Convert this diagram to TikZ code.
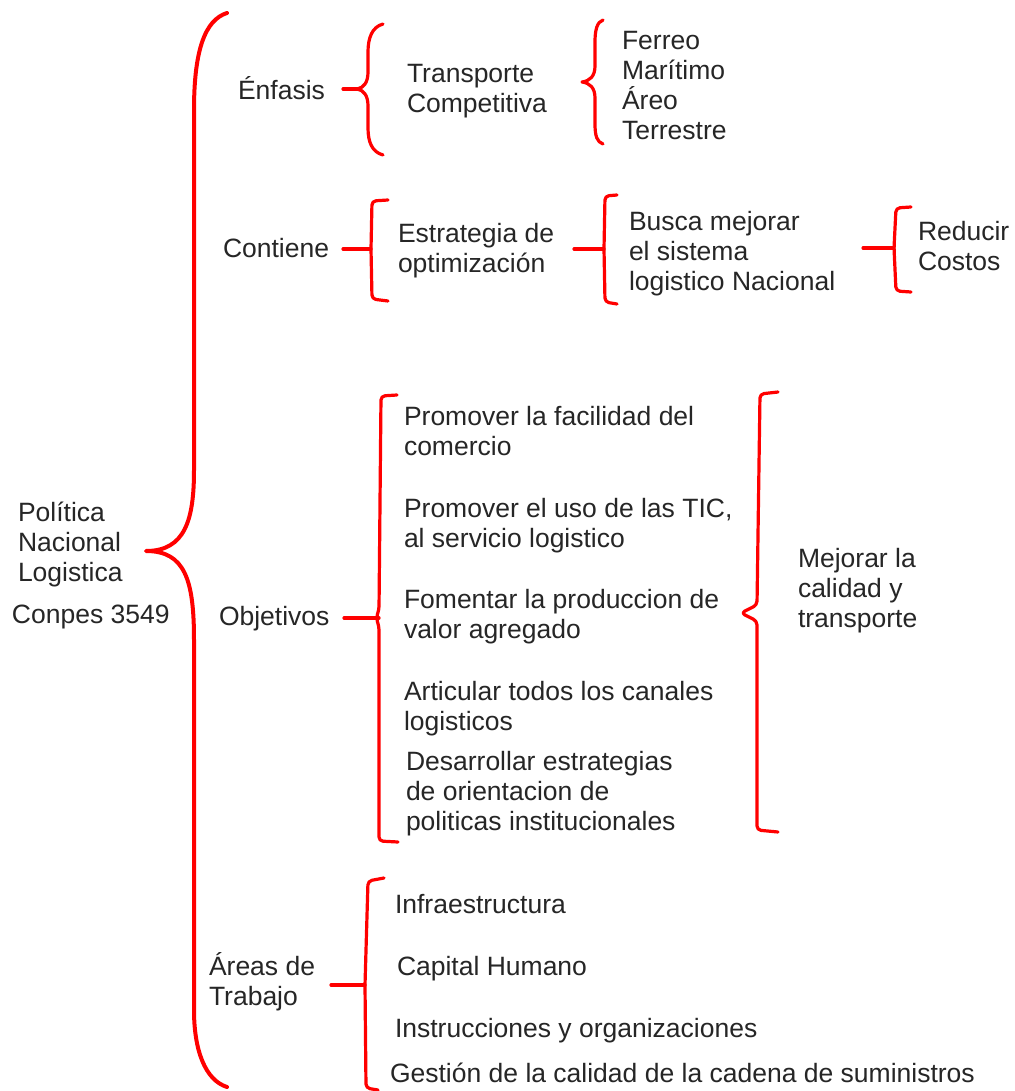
\documentclass[tikz,border=0pt]{standalone}
\usepackage{fontspec}
\setmainfont{Liberation Sans}
\begin{document}
\begin{tikzpicture}[x=1pt,y=-1pt,
  txt/.style={anchor=base west,inner sep=0pt,outer sep=0pt,align=left,
    font=\fontsize{26.5}{30}\selectfont,text=black!85},
  brace/.style={draw=red,line width=3.2pt,line join=round,line cap=round},
  bigbrace/.style={draw=red,line width=4pt,line join=round,line cap=round}]
\useasboundingbox[fill=white] (0,0) rectangle (1014,1091);

% root (anchor = baseline of last line)
\node[txt] (root) at (18,581) {Política\\Nacional\\Logistica};
\node[txt] (conpes) at (12,623) {Conpes 3549};

% main brace
\coordinate (mtip) at (146,551);
\draw[bigbrace] (227,13) .. controls (205,20) and (194,50) .. (194,110)
  -- (194,470) .. controls (194,520) and (185,551) .. (mtip)
  .. controls (185,551) and (194,580) .. (194,640)
  -- (194,1010) .. controls (194,1050) and (205,1080) .. (227,1087);

% level 2
\node[txt] (enf) at (238,100) {Énfasis};
\node[txt] (cont) at (223,258) {Contiene};
\node[txt] (obj) at (219,625) {Objetivos};
\node[txt] (areas) at (209,1005) {Áreas de\\Trabajo};

% Enfasis brace
\coordinate (e0) at (343,89);
\coordinate (etip) at (357,89);
\draw[brace] (e0) -- (etip);
\draw[brace] (383,24) .. controls (372,27) and (368,38) .. (368,52)
  -- (368,72) .. controls (368,82) and (364,88) .. (etip)
  .. controls (364,90) and (368,96) .. (368,106)
  -- (368,128) .. controls (368,142) and (372,152) .. (383,155);
\node[txt] (trans) at (407,113) {Transporte\\Competitiva};

% Transporte brace
\coordinate (ttip) at (582,82);
\draw[brace] (603,20) .. controls (597,22) and (595,30) .. (595,42)
  -- (595,66) .. controls (595,76) and (590,81) .. (ttip)
  .. controls (590,83) and (595,88) .. (595,98)
  -- (595,124) .. controls (595,136) and (597,142) .. (603,144);
\node[txt] (modes) at (622,140) {Ferreo\\Marítimo\\Áreo\\Terrestre};

% Contiene bracket
\coordinate (c0) at (343,249);
\coordinate (c1) at (371,249);
\draw[brace] (c0) -- (c1);
\draw[brace,rounded corners=4pt] (388,200) -- (372,201) -- (371,249) -- (372,299) -- (388,301);
\node[txt] (estr) at (398,272) {Estrategia de\\optimización};

% Estrategia -> Busca bracket
\coordinate (b0) at (574,249);
\coordinate (b1) at (604,249);
\draw[brace] (b0) -- (b1);
\draw[brace,rounded corners=4pt] (617,195) -- (605,196) -- (604,249) -- (605,302) -- (617,304);
\node[txt] (busca) at (629,290) {Busca mejorar\\el sistema\\logistico Nacional};

% Busca -> Reducir bracket
\coordinate (r0) at (863,248);
\coordinate (r1) at (894,248);
\draw[brace] (r0) -- (r1);
\draw[brace,rounded corners=4pt] (911,207) -- (896,208) -- (894,248) -- (896,291) -- (911,292);
\node[txt] (reduc) at (918,270) {Reducir\\Costos};

% Objetivos bracket
\coordinate (o0) at (344,618);
\coordinate (o1) at (379,618);
\draw[brace] (o0) -- (o1);
\draw[brace,rounded corners=4pt] (397,395) -- (381,396) -- (379,610) -- (376,618) -- (379,626) -- (379,841) -- (398,842);
\node[txt] (ob1) at (404,455) {Promover la facilidad del\\comercio};
\node[txt] (ob2) at (404,547) {Promover el uso de las TIC,\\al servicio logistico};
\node[txt] (ob3) at (404,638) {Fomentar la produccion de\\valor agregado};
\node[txt] (ob4) at (404,730) {Articular todos los canales\\logisticos};
\node[txt] (ob5) at (406,830) {Desarrollar estrategias\\de orientacion de\\politicas institucionales};

% Mejorar bracket
\coordinate (mj) at (741,613);
\draw[brace,rounded corners=4pt] (778,392) -- (760,394) -- (757,605) -- (mj) -- (757,621) -- (757,830) -- (778,832);
\node[txt] (mejor) at (798,627) {Mejorar la\\calidad y\\transporte};

% Areas bracket
\coordinate (a0) at (331,985);
\coordinate (a1) at (365,985);
\draw[brace] (a0) -- (a1);
\draw[brace,rounded corners=4pt] (384,878) -- (368,881) -- (365,985) -- (366,1088) -- (378,1090);
\node[txt] (ar1) at (395,913) {Infraestructura};
\node[txt] (ar2) at (397,975) {Capital Humano};
\node[txt] (ar3) at (395,1037) {Instrucciones y organizaciones};
\node[txt] (ar4) at (390,1082) {Gestión de la calidad de la cadena de suministros};
\end{tikzpicture}
\end{document}
